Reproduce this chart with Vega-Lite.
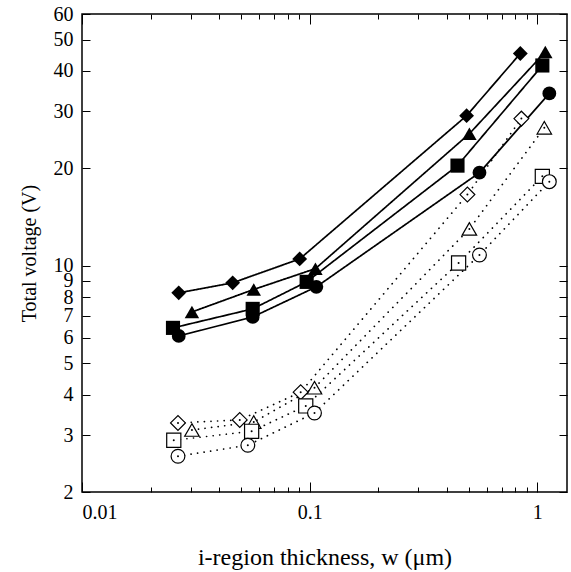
{
  "$schema": "https://vega.github.io/schema/vega-lite/v6.json",
  "width": 485,
  "height": 478,
  "autosize": "none",
  "padding": {"left": 82, "top": 14, "right": 4, "bottom": 80},
  "background": "white",
  "config": {
    "view": {"stroke": "black", "strokeWidth": 1.5},
    "font": "Liberation Serif",
    "axis": {
      "domainColor": "black",
      "tickColor": "black",
      "labelColor": "black",
      "titleColor": "black",
      "labelFont": "Liberation Serif",
      "titleFont": "Liberation Serif",
      "titleFontWeight": "normal",
      "grid": false
    }
  },
  "data": {
    "values": [
      {"series": "d1", "marker": "diamond", "fill": "filled", "w": 0.0266, "V": 8.25},
      {"series": "d1", "marker": "diamond", "fill": "filled", "w": 0.0459, "V": 8.86},
      {"series": "d1", "marker": "diamond", "fill": "filled", "w": 0.0904, "V": 10.5},
      {"series": "d1", "marker": "diamond", "fill": "filled", "w": 0.489, "V": 29.1},
      {"series": "d1", "marker": "diamond", "fill": "filled", "w": 0.842, "V": 45.3},
      {"series": "t1", "marker": "triangle", "fill": "filled", "w": 0.0304, "V": 7.2},
      {"series": "t1", "marker": "triangle", "fill": "filled", "w": 0.0568, "V": 8.45},
      {"series": "t1", "marker": "triangle", "fill": "filled", "w": 0.106, "V": 9.8},
      {"series": "t1", "marker": "triangle", "fill": "filled", "w": 0.503, "V": 25.6},
      {"series": "t1", "marker": "triangle", "fill": "filled", "w": 1.084, "V": 45.8},
      {"series": "s1", "marker": "square", "fill": "filled", "w": 0.0251, "V": 6.43},
      {"series": "s1", "marker": "square", "fill": "filled", "w": 0.0562, "V": 7.36},
      {"series": "s1", "marker": "square", "fill": "filled", "w": 0.097, "V": 8.92},
      {"series": "s1", "marker": "square", "fill": "filled", "w": 0.446, "V": 20.4},
      {"series": "s1", "marker": "square", "fill": "filled", "w": 1.052, "V": 41.6},
      {"series": "c1", "marker": "circle", "fill": "filled", "w": 0.0266, "V": 6.07},
      {"series": "c1", "marker": "circle", "fill": "filled", "w": 0.0562, "V": 6.95},
      {"series": "c1", "marker": "circle", "fill": "filled", "w": 0.107, "V": 8.61},
      {"series": "c1", "marker": "circle", "fill": "filled", "w": 0.557, "V": 19.4},
      {"series": "c1", "marker": "circle", "fill": "filled", "w": 1.129, "V": 34.1},
      {"series": "d2", "marker": "diamond", "fill": "open", "w": 0.0264, "V": 3.27},
      {"series": "d2", "marker": "diamond", "fill": "open", "w": 0.0493, "V": 3.34},
      {"series": "d2", "marker": "diamond", "fill": "open", "w": 0.0913, "V": 4.07},
      {"series": "d2", "marker": "diamond", "fill": "open", "w": 0.493, "V": 16.6},
      {"series": "d2", "marker": "diamond", "fill": "open", "w": 0.851, "V": 28.5},
      {"series": "t2", "marker": "triangle", "fill": "open", "w": 0.0304, "V": 3.11},
      {"series": "t2", "marker": "triangle", "fill": "open", "w": 0.0568, "V": 3.29},
      {"series": "t2", "marker": "triangle", "fill": "open", "w": 0.105, "V": 4.2},
      {"series": "t2", "marker": "triangle", "fill": "open", "w": 0.503, "V": 13.0},
      {"series": "t2", "marker": "triangle", "fill": "open", "w": 1.073, "V": 26.7},
      {"series": "s2", "marker": "square", "fill": "open", "w": 0.0253, "V": 2.89},
      {"series": "s2", "marker": "square", "fill": "open", "w": 0.0556, "V": 3.08},
      {"series": "s2", "marker": "square", "fill": "open", "w": 0.0961, "V": 3.69},
      {"series": "s2", "marker": "square", "fill": "open", "w": 0.451, "V": 10.2},
      {"series": "s2", "marker": "square", "fill": "open", "w": 1.052, "V": 18.9},
      {"series": "c2", "marker": "circle", "fill": "open", "w": 0.0264, "V": 2.58},
      {"series": "c2", "marker": "circle", "fill": "open", "w": 0.0535, "V": 2.79},
      {"series": "c2", "marker": "circle", "fill": "open", "w": 0.105, "V": 3.51},
      {"series": "c2", "marker": "circle", "fill": "open", "w": 0.557, "V": 10.8},
      {"series": "c2", "marker": "circle", "fill": "open", "w": 1.129, "V": 18.2}
    ]
  },
  "resolve": {"axis": {"x": "independent", "y": "independent"}},
  "layer": [
    {
      "mark": {"type": "line", "color": "black", "strokeWidth": 1.7, "strokeCap": "round"},
      "encoding": {
        "x": {
          "field": "w", "type": "quantitative",
          "scale": {"type": "log", "domain": [0.01, 1.35], "nice": false, "zero": false},
          "axis": {
            "orient": "bottom",
            "title": "i-region thickness, w (μm)",
            "titleFontSize": 24,
            "titlePadding": 18,
            "labelFontSize": 20,
            "labelOverlap": false,
            "values": [0.01, 0.02, 0.03, 0.04, 0.05, 0.06, 0.07, 0.08, 0.09, 0.1, 0.2, 0.3, 0.4, 0.5, 0.6, 0.7, 0.8, 0.9, 1],
            "labelExpr": "datum.value == 0.01 ? '0.01' : datum.value == 0.1 ? '0.1' : datum.value == 1 ? '1' : ''",
            "tickSize": {"condition": {"test": "datum.value == 0.01 || datum.value == 0.1 || datum.value == 1", "value": -10}, "value": -5},
            "labelPadding": 20,
            "domain": false
          }
        },
        "y": {
          "field": "V", "type": "quantitative",
          "scale": {"type": "log", "domain": [2, 60], "nice": false, "zero": false},
          "axis": {
            "orient": "left",
            "title": "Total voltage (V)",
            "titleFontSize": 20,
            "titlePadding": 14,
            "labelFontSize": 20,
            "labelOverlap": false,
            "values": [2, 3, 4, 5, 6, 7, 8, 9, 10, 20, 30, 40, 50, 60],
            "format": "~g",
            "tickSize": -8,
            "labelPadding": 17,
            "domain": false
          }
        },
        "detail": {"field": "series"},
        "strokeDash": {
          "field": "fill", "type": "nominal",
          "scale": {"domain": ["filled", "open"], "range": [[1, 0], [0.1, 6.5]]},
          "legend": null
        }
      }
    },
    {
      "transform": [{"filter": "datum.fill == 'filled'"}],
      "mark": {"type": "point", "filled": true, "color": "black", "opacity": 1},
      "encoding": {
        "x": {
          "field": "w", "type": "quantitative",
          "scale": {"type": "log", "domain": [0.01, 1.35], "nice": false, "zero": false},
          "axis": {
            "orient": "top", "title": null, "labels": false, "domain": false,
            "values": [0.01, 0.02, 0.03, 0.04, 0.05, 0.06, 0.07, 0.08, 0.09, 0.1, 0.2, 0.3, 0.4, 0.5, 0.6, 0.7, 0.8, 0.9, 1],
            "tickSize": {"condition": {"test": "datum.value == 0.01 || datum.value == 0.1 || datum.value == 1", "value": -10}, "value": -5}
          }
        },
        "y": {
          "field": "V", "type": "quantitative",
          "scale": {"type": "log", "domain": [2, 60], "nice": false, "zero": false},
          "axis": {
            "orient": "right", "title": null, "labels": false, "domain": false,
            "values": [2, 3, 4, 5, 6, 7, 8, 9, 10, 20, 30, 40, 50, 60],
            "tickSize": -8
          }
        },
        "shape": {
          "field": "marker", "type": "nominal",
          "scale": {"domain": ["diamond", "triangle", "square", "circle"], "range": ["diamond", "triangle-up", "square", "circle"]},
          "legend": null
        },
        "size": {
          "field": "marker", "type": "nominal",
          "scale": {"domain": ["diamond", "triangle", "square", "circle"], "range": [220, 190, 150, 160]},
          "legend": null
        }
      }
    },
    {
      "transform": [{"filter": "datum.fill == 'open'"}],
      "mark": {"type": "point", "filled": false, "fill": "white", "fillOpacity": 1, "stroke": "black", "strokeWidth": 1.2, "opacity": 1},
      "encoding": {
        "x": {"field": "w", "type": "quantitative", "scale": {"type": "log", "domain": [0.01, 1.35], "nice": false, "zero": false}, "axis": null},
        "y": {"field": "V", "type": "quantitative", "scale": {"type": "log", "domain": [2, 60], "nice": false, "zero": false}, "axis": null},
        "shape": {
          "field": "marker", "type": "nominal",
          "scale": {"domain": ["diamond", "triangle", "square", "circle"], "range": ["diamond", "triangle-up", "square", "circle"]},
          "legend": null
        },
        "size": {
          "field": "marker", "type": "nominal",
          "scale": {"domain": ["diamond", "triangle", "square", "circle"], "range": [190, 180, 150, 150]},
          "legend": null
        }
      }
    },
    {
      "transform": [{"filter": "datum.fill == 'open'"}],
      "mark": {"type": "point", "filled": true, "color": "black", "opacity": 1, "size": 4},
      "encoding": {
        "x": {"field": "w", "type": "quantitative", "scale": {"type": "log", "domain": [0.01, 1.35], "nice": false, "zero": false}, "axis": null},
        "y": {"field": "V", "type": "quantitative", "scale": {"type": "log", "domain": [2, 60], "nice": false, "zero": false}, "axis": null}
      }
    }
  ]
}
